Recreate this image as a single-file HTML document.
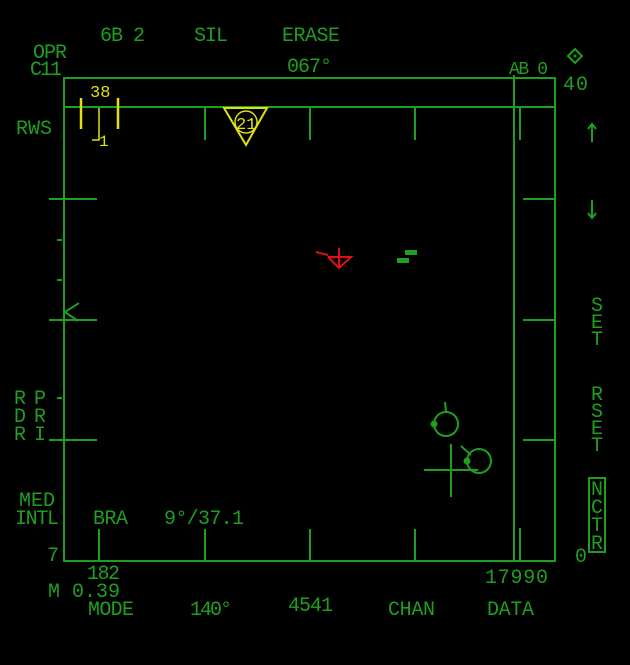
<!DOCTYPE html>
<html><head><meta charset="utf-8"><style>
html,body{margin:0;padding:0;background:#000;}
svg{display:block}
text{font-family:"Liberation Mono",monospace;font-size:20px;fill:#1f9f1f;}
.y{fill:#e0e010;}
</style></head><body>
<svg width="630" height="665" viewBox="0 0 630 665" xmlns="http://www.w3.org/2000/svg">
<rect width="630" height="665" fill="#000"/>
<g stroke="#1f9f1f" stroke-width="2" fill="none">
<rect x="64" y="78" width="491" height="483"/>
<line x1="64" y1="107" x2="555" y2="107"/>
<line x1="514" y1="75" x2="514" y2="561"/>
<line x1="205" y1="107" x2="205" y2="140"/>
<line x1="310" y1="107" x2="310" y2="140"/>
<line x1="415" y1="107" x2="415" y2="140"/>
<line x1="520" y1="107" x2="520" y2="140"/>
<line x1="99" y1="529" x2="99" y2="561"/>
<line x1="205" y1="529" x2="205" y2="561"/>
<line x1="310" y1="529" x2="310" y2="561"/>
<line x1="415" y1="529" x2="415" y2="561"/>
<line x1="520" y1="528" x2="520" y2="561"/>
<line x1="49" y1="199" x2="97" y2="199"/>
<line x1="49" y1="320" x2="97" y2="320"/>
<line x1="49" y1="440" x2="97" y2="440"/>
<line x1="57" y1="240" x2="62" y2="240"/>
<line x1="57" y1="280" x2="62" y2="280"/>
<line x1="57" y1="398" x2="62" y2="398"/>
<line x1="523" y1="199" x2="555" y2="199"/>
<line x1="523" y1="320" x2="555" y2="320"/>
<line x1="523" y1="440" x2="555" y2="440"/>
<polyline points="79,303 65,312 78,321"/>
<circle cx="446" cy="424" r="12"/>
<line x1="445" y1="402" x2="446" y2="412"/>
<circle cx="479" cy="461" r="12"/>
<line x1="461" y1="446" x2="471" y2="455"/>
<line x1="424" y1="470" x2="478" y2="470"/>
<line x1="451" y1="444" x2="451" y2="497"/>
<rect x="589" y="478" width="16" height="74"/>
<polygon points="575,49 582,56 575,63 568,56"/>
<line x1="592" y1="124" x2="592" y2="142"/>
<polyline points="588,129 592,124 596,129"/>
<line x1="592" y1="200" x2="592" y2="218"/>
<polyline points="588,213 592,218 596,213"/>
</g>
<g fill="#1f9f1f">
<circle cx="434" cy="424" r="3.5"/>
<circle cx="467" cy="461" r="3.5"/>
<circle cx="575" cy="56" r="1.5"/>
<rect x="405" y="250" width="12" height="5"/>
<rect x="397" y="258" width="12" height="5"/>
</g>
<g stroke="#e0e010" stroke-width="2.5" fill="none">
<line x1="81" y1="98" x2="81" y2="129"/>
<line x1="118" y1="98" x2="118" y2="129"/>
<polyline stroke-width="1.5" points="99,108 99,140 92,140"/>
<polygon stroke-width="2" points="224,108 267,108 246,145"/>
<circle stroke-width="1.5" cx="246" cy="122" r="11"/>
</g>
<text class="y" x="90" y="97" style="font-size:17px">38</text>
<text class="y" x="99" y="146" style="font-size:16px">1</text>
<text class="y" x="236" y="129" style="font-size:17px">21</text>
<g stroke="#e01010" stroke-width="2" fill="none">
<polyline points="328,257 351,257 339,268 328,257"/>
<line x1="339" y1="248" x2="339" y2="268"/>
<line x1="316" y1="252" x2="328" y2="255"/>
</g>
<g lengthAdjust="spacing">
<text x="100" y="41" textLength="45">6B 2</text>
<text x="194" y="41" textLength="34">SIL</text>
<text x="282" y="41" textLength="58">ERASE</text>
<text x="33" y="58" textLength="34">OPR</text>
<text x="30" y="75" textLength="32">C11</text>
<text x="287" y="72" textLength="45">067°</text>
<text x="509" y="74" textLength="39" style="font-size:18px">AB 0</text>
<text x="563" y="90" textLength="25">40</text>
<text x="16" y="134" textLength="36">RWS</text>
<text x="19" y="506" textLength="36">MED</text>
<text x="15" y="524" textLength="44">INTL</text>
<text x="93" y="524" textLength="35">BRA</text>
<text x="164" y="524" textLength="80">9°/37.1</text>
<text x="47" y="561">7</text>
<text x="87" y="579" textLength="33">182</text>
<text x="48" y="597" textLength="72">M 0.39</text>
<text x="88" y="615" textLength="46">MODE</text>
<text x="190" y="615" textLength="42">140°</text>
<text x="288" y="611" textLength="45">4541</text>
<text x="388" y="615" textLength="47">CHAN</text>
<text x="487" y="615" textLength="47">DATA</text>
<text x="485" y="583" textLength="63">17990</text>
<text x="575" y="562">0</text>
</g>
<g style="font-size:19px" text-anchor="middle">
<text x="20" y="404">R</text><text x="20" y="422">D</text><text x="20" y="440">R</text>
<text x="40" y="404">P</text><text x="40" y="422">R</text><text x="40" y="440">I</text>
<text x="597" y="311">S</text><text x="597" y="328">E</text><text x="597" y="345">T</text>
<text x="597" y="400">R</text><text x="597" y="417">S</text><text x="597" y="434">E</text><text x="597" y="451">T</text>
<text x="597" y="495">N</text><text x="597" y="513">C</text><text x="597" y="531">T</text><text x="597" y="549">R</text>
</g>
</svg>
</body></html>
